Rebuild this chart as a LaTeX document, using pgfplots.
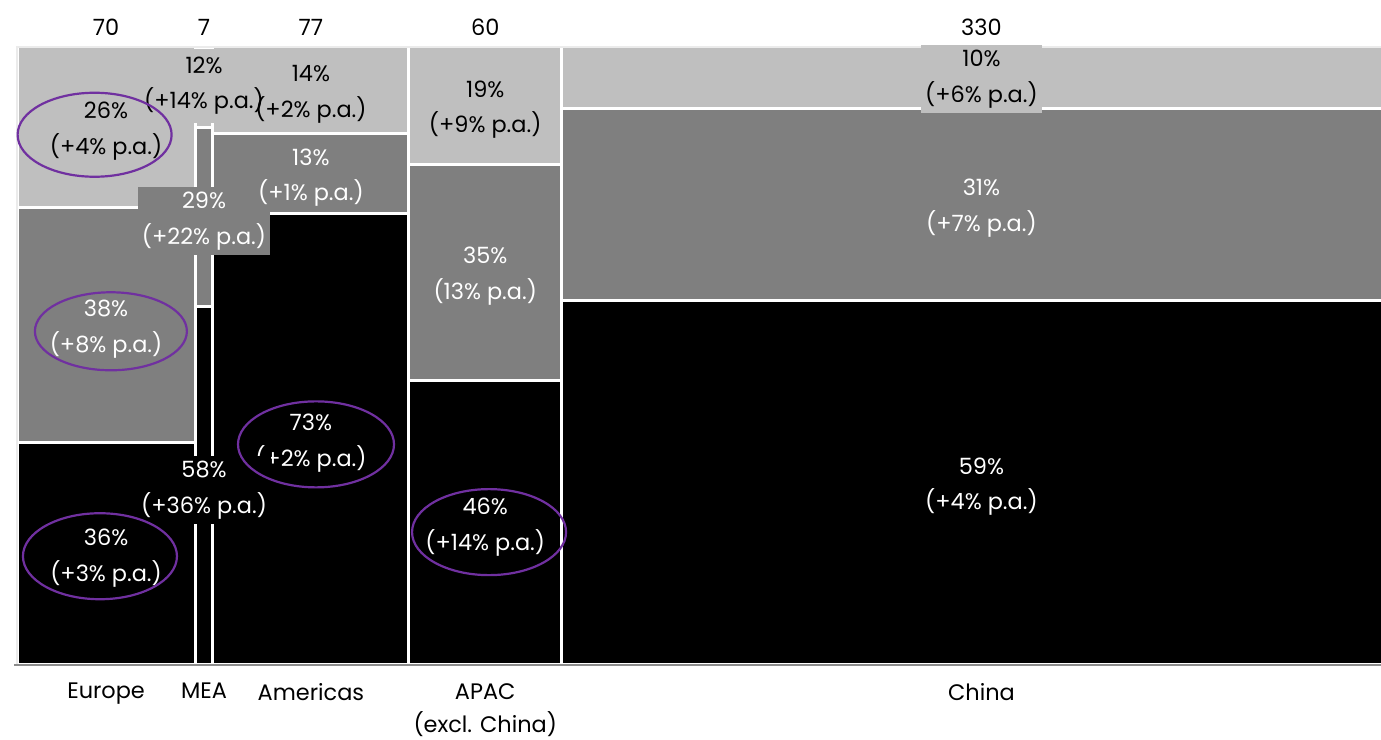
\documentclass[border=0pt]{standalone}
\usepackage{pgfplots}
\pgfplotsset{compat=1.18}
\usepackage{fontspec}
\setmainfont{Poppins}
\definecolor{cL}{HTML}{BFBFBF}
\definecolor{cM}{HTML}{7F7F7F}
\definecolor{cK}{HTML}{000000}
\definecolor{cP}{HTML}{7030A0}
\newcommand\lab{\fontsize{22.5}{36}\selectfont}
\tikzset{
  seg/.style={draw=white, line width=3bp},
  lbl/.style={align=center, font=\lab, inner xsep=4bp, inner ysep=5bp, yshift=-4bp},
  ell/.style={draw=cP, line width=2.2bp},
}
\begin{document}
\begin{tikzpicture}
\useasboundingbox (0,0) rectangle (1381bp,740bp);
\begin{axis}[
  at={(17bp,75bp)}, anchor=south west, scale only axis,
  width=1364bp, height=618bp,
  xmin=0, xmax=536, ymin=0, ymax=100, clip=false,
  axis line style={draw=none}, major tick length=0pt, ytick=\empty,
  xtick={35,73.5,115.5,184,379},
  xticklabels={Europe,MEA,Americas,{APAC\\(excl. China)},China},
  xticklabel style={align=center, font=\fontsize{22.5}{34}\selectfont, text=black, anchor=north, inner sep=0pt, yshift=-18bp},
]
% Europe (70)
\addplot[seg, fill=cK] coordinates {(0,0) (70,0) (70,36) (0,36)} -- cycle;
\addplot[seg, fill=cM] coordinates {(0,36) (70,36) (70,74) (0,74)} -- cycle;
\addplot[seg, fill=cL] coordinates {(0,74) (70,74) (70,100) (0,100)} -- cycle;
% MEA (7)
\addplot[seg, fill=cK] coordinates {(70,0) (77,0) (77,58) (70,58)} -- cycle;
\addplot[seg, fill=cM] coordinates {(70,58) (77,58) (77,87) (70,87)} -- cycle;
\addplot[seg, fill=cL] coordinates {(70,87) (77,87) (77,99) (70,99)} -- cycle;
% Americas (77)
\addplot[seg, fill=cK] coordinates {(77,0) (154,0) (154,73) (77,73)} -- cycle;
\addplot[seg, fill=cM] coordinates {(77,73) (154,73) (154,86) (77,86)} -- cycle;
\addplot[seg, fill=cL] coordinates {(77,86) (154,86) (154,100) (77,100)} -- cycle;
% APAC excl. China (60)
\addplot[seg, fill=cK] coordinates {(154,0) (214,0) (214,46) (154,46)} -- cycle;
\addplot[seg, fill=cM] coordinates {(154,46) (214,46) (214,81) (154,81)} -- cycle;
\addplot[seg, fill=cL] coordinates {(154,81) (214,81) (214,100) (154,100)} -- cycle;
% China (330)
\addplot[seg, fill=cK] coordinates {(214,0) (544,0) (544,59) (214,59)} -- cycle;
\addplot[seg, fill=cM] coordinates {(214,59) (544,59) (544,90) (214,90)} -- cycle;
\addplot[seg, fill=cL] coordinates {(214,90) (544,90) (544,100) (214,100)} -- cycle;

% frame lines
\draw[color=black!8, line width=1.5bp] (rel axis cs:0,0) -- (rel axis cs:0,1) -- (rel axis cs:1,1);
\draw[color=black!45, line width=2bp] (axis cs:-1,0) -- (axis cs:536,0);

% totals on top
\node[font=\lab] at (axis cs:35,103.2) {70};
\node[font=\lab] at (axis cs:73.5,103.2) {7};
\node[font=\lab] at (axis cs:115.5,103.2) {77};
\node[font=\lab] at (axis cs:184,103.2) {60};
\node[font=\lab] at (axis cs:379,103.2) {330};

% Europe labels
\node[lbl, text=white] at (axis cs:35,18) {36\%\\(+3\% p.a.)};
\node[lbl, text=white] at (axis cs:35,55) {38\%\\(+8\% p.a.)};
\node[lbl, text=black] at (axis cs:35,87) {26\%\\(+4\% p.a.)};
% MEA upper labels
\node[lbl, text=black, fill=cL, inner ysep=8bp] at (axis cs:73.5,94.4) {12\%\\(+14\% p.a.)};
\node[lbl, text=white, fill=cM] at (axis cs:73.5,72.5) {29\%\\(+22\% p.a.)};
% Americas labels
\node[lbl, text=black] at (axis cs:115.5,93) {14\%\\(+2\% p.a.)};
\node[lbl, text=white] at (axis cs:115.5,79.5) {13\%\\(+1\% p.a.)};
\node[lbl, text=white] at (axis cs:115.5,36.5) {73\%\\(+2\% p.a.)};
% MEA bottom label
\node[lbl, text=white, fill=cK] at (axis cs:73.5,29) {58\%\\(+36\% p.a.)};
% APAC labels
\node[lbl, text=white] at (axis cs:184,23) {46\%\\(+14\% p.a.)};
\node[lbl, text=white] at (axis cs:184,63.5) {35\%\\(13\% p.a.)};
\node[lbl, text=black] at (axis cs:184,90.5) {19\%\\(+9\% p.a.)};
% China labels
\node[lbl, text=white] at (axis cs:379,29.5) {59\%\\(+4\% p.a.)};
\node[lbl, text=white] at (axis cs:379,74.5) {31\%\\(+7\% p.a.)};
\node[lbl, text=black, fill=cL] at (axis cs:379,95.5) {10\%\\(+6\% p.a.)};

% highlight ellipses
\draw[ell] (axis cs:30.5,85.8) ellipse [x radius=77bp, y radius=42bp];
\draw[ell] (axis cs:36.9,54.0) ellipse [x radius=76bp, y radius=39bp];
\draw[ell] (axis cs:32.6,17.6) ellipse [x radius=77bp, y radius=43bp];
\draw[ell] (axis cs:117.5,35.7) ellipse [x radius=78bp, y radius=43bp];
\draw[ell] (axis cs:185.5,21.5) ellipse [x radius=77bp, y radius=43bp];
\end{axis}
\end{tikzpicture}
\end{document}
